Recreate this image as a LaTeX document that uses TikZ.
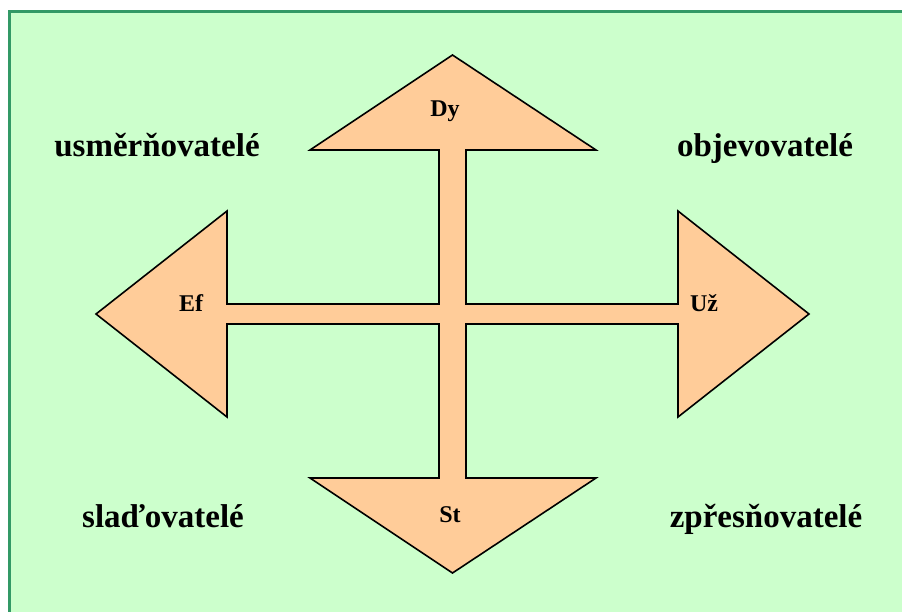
\documentclass[tikz,border=0pt]{standalone}
\usepackage{fontspec}
\setmainfont{Liberation Serif}
\definecolor{bgfill}{HTML}{CCFFCC}
\definecolor{bgline}{HTML}{339966}
\definecolor{peach}{HTML}{FFCC99}
\tikzset{
  lbl/.style={font=\fontsize{24}{24}\selectfont\bfseries, anchor=base, inner sep=0pt},
  corner/.style={font=\fontsize{33}{33}\selectfont\bfseries, anchor=base, inner sep=0pt},
  crossshape/.style={fill=peach, draw=black, line width=1.6pt, line join=miter}
}
\begin{document}
\begin{tikzpicture}[x=1pt,y=-1pt]
\useasboundingbox (0,0) rectangle (902,611);
\fill[white] (0,0) rectangle (902,611);
\begin{scope}
\clip (0,0) rectangle (902,611);
\fill[bgfill, draw=bgline, line width=2.6pt] (9.3,11.3) rectangle (910,620);
\end{scope}
\draw[crossshape]
  (452.5,55) -- (596,150) -- (466,150) -- (466,304) -- (678,304) -- (678,211)
  -- (809,314) -- (678,417) -- (678,324) -- (466,324) -- (466,478) -- (596,478)
  -- (452.5,573) -- (310,478) -- (439,478) -- (439,324) -- (227,324) -- (227,417)
  -- (96,314) -- (227,211) -- (227,304) -- (439,304) -- (439,150) -- (310,150) -- cycle;
\node[lbl] (dy) at (445,116.7) {Dy};
\node[lbl] (ef) at (191,311.7) {Ef};
\node[lbl] (uz) at (704,311.7) {Už};
\node[lbl] (st) at (450,522.3) {St};
\node[corner] (usm) at (157,156) {usměrňovatelé};
\node[corner] (obj) at (765,156) {objevovatelé};
\node[corner] (sla) at (163,527) {slaďovatelé};
\node[corner] (zpr) at (766,527) {zpřesňovatelé};
\end{tikzpicture}
\end{document}
